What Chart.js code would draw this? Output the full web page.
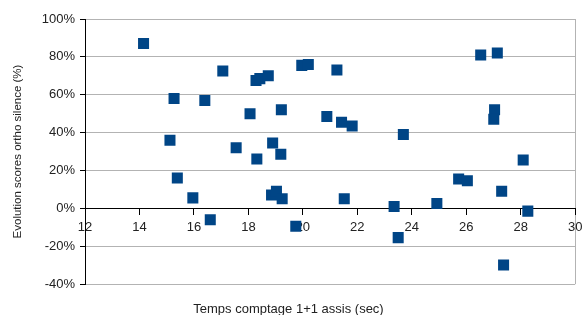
<!DOCTYPE html>
<html>
<head>
<meta charset="utf-8">
<script src="https://cdn.jsdelivr.net/npm/chart.js@4"></script>
<style>
  html, body { margin: 0; padding: 0; background: #fff; }
  #wrap { width: 583px; height: 315px; }
</style>
</head>
<body>
<div id="wrap"><canvas id="chart" width="583" height="315"></canvas></div>
<script>
// temps comptage (sec) / evolution (%)
const tempsSec = [14.15, 15.27, 15.12, 16.40, 17.06, 18.06, 18.28, 18.42, 18.73, 19.21,
  17.55, 18.89, 18.31, 19.19, 19.96, 20.20, 21.25, 20.88, 21.42, 21.81,
  23.69, 26.53, 27.14, 27.04, 27.01, 28.09, 15.39, 15.96, 16.60, 18.85,
  19.03, 19.24, 19.74, 21.52, 23.35, 23.50, 24.92, 25.72, 26.04, 27.30,
  27.37, 28.26];
const evolutionPct = [87, 58, 36, 57, 72.5, 50, 67.5, 68.5, 70, 52,
  32, 34.5, 26, 28.5, 75.5, 76, 73, 48.5, 45.5, 43.5,
  39, 81, 82, 52, 47, 25.5, 16, 5.5, -6, 7,
  9, 5, -9.5, 5, 1, -15.5, 2.5, 15.5, 14.5, 9,
  -30, -1.5];
const xTicks = [12, 14, 16, 18, 20, 22, 24, 26, 28, 30];
const yTicks = [-40, -20, 0, 20, 40, 60, 80, 100];

const points = tempsSec.map((t, i) => ({ x: t, y: evolutionPct[i] }));

const gris = '#b3b3b3';

new Chart(document.getElementById('chart'), {
  type: 'scatter',
  data: {
    datasets: [{
      data: points,
      pointStyle: 'rect',
      pointRadius: 7.8,
      pointHoverRadius: 7.8,
      backgroundColor: '#004586',
      borderColor: '#004586',
      borderWidth: 0
    }]
  },
  options: {
    responsive: false,
    animation: false,
    layout: { padding: { left: 0, top: 19, right: 6, bottom: 0 } },
    plugins: {
      legend: { display: false },
      tooltip: { enabled: false },
      title: {
        display: true,
        position: 'bottom',
        text: 'Temps comptage 1+1 assis (sec)',
        color: '#222',
        font: { family: 'Liberation Sans', size: 13, weight: 'normal' },
        padding: { top: 17.4, bottom: -2 }
      }
    },
    scales: {
      x: {
        type: 'linear',
        position: { y: 0 },
        min: xTicks[0],
        max: xTicks[xTicks.length - 1],
        afterBuildTicks: s => { s.ticks = xTicks.map(v => ({ value: v })); },
        afterFit: s => { s.paddingLeft = 0; s.paddingRight = 0; },
        border: { display: true, color: '#000', width: 1 },
        grid: {
          color: c => (c.tick && c.tick.value === 30 ? gris : 'rgba(0,0,0,0)'),
          tickColor: '#000',
          tickLength: 6
        },
        ticks: {
          color: '#222',
          padding: 5,
          maxRotation: 0,
          autoSkip: false,
          font: { family: 'Liberation Sans', size: 13 }
        }
      },
      y: {
        type: 'linear',
        position: 'left',
        min: yTicks[0],
        max: yTicks[yTicks.length - 1],
        afterBuildTicks: s => { s.ticks = yTicks.map(v => ({ value: v })); },
        afterFit: s => { s.width = 85; s.paddingTop = 0; s.paddingBottom = 0; },
        border: { display: true, color: '#000', width: 1 },
        grid: { color: gris, tickColor: '#000', tickLength: 5 },
        ticks: {
          color: '#222',
          padding: 5,
          font: { family: 'Liberation Sans', size: 13 },
          callback: v => v + '%'
        },
        title: {
          display: true,
          text: 'Evolution scores ortho silence (%)',
          color: '#222',
          font: { family: 'Liberation Sans', size: 11.5 },
          padding: { top: 11, bottom: 0 }
        }
      }
    }
  }
});
</script>
</body>
</html>
